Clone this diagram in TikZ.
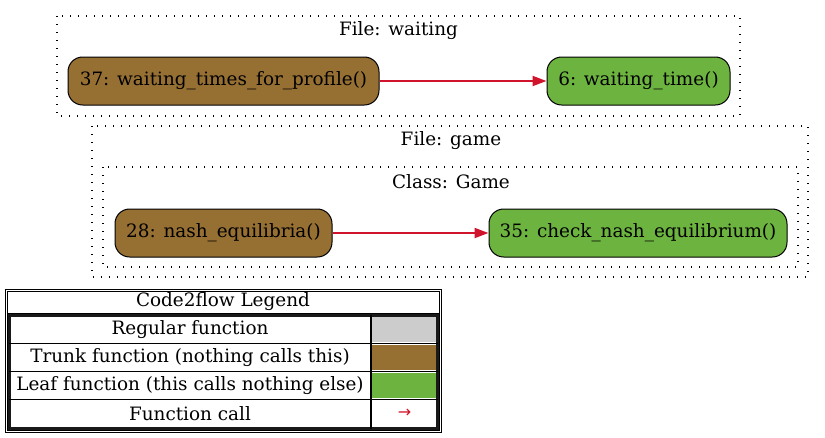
\documentclass[tikz,border=0pt]{standalone}
\usepackage{fontspec}
\setmainfont{DejaVu Serif}
\newfontfamily\symfont{DejaVu Sans}
\usetikzlibrary{arrows.meta}
\definecolor{trunk}{HTML}{966F33}
\definecolor{leaf}{HTML}{6DB33F}
\definecolor{regular}{HTML}{CCCCCC}
\definecolor{edgered}{HTML}{CF142B}
\tikzset{
  fn/.style={draw=black, line width=0.75pt, rounded corners=11pt, minimum height=36pt, inner sep=0pt, font=\fontsize{13.8}{15}\selectfont},
  trunkfn/.style={fn, fill=trunk},
  leaffn/.style={fn, fill=leaf},
  cluster/.style={draw=black, line width=1pt, dash pattern=on 1pt off 5pt},
  clabel/.style={font=\fontsize{13.8}{15}\selectfont, inner sep=0pt},
  call/.style={draw=edgered, line width=1.5pt, -{Triangle[length=10.5pt,width=7.5pt]}},
  ltext/.style={font=\fontsize{13.8}{15}\selectfont, inner sep=0pt},
}
\begin{document}
\begin{tikzpicture}[x=0.75pt, y=-0.75pt]
\useasboundingbox (0,0) rectangle (825,437);
% clusters
\draw[cluster] (57,16) rectangle (740,116);
\node[clabel] (lwaiting) at (398.5,31) {File: waiting};
\draw[cluster] (92,126) rectangle (808,277);
\node[clabel] (lgame) at (451,141) {File: game};
\draw[cluster] (103,167) rectangle (798,267);
\node[clabel] (lclass) at (451,182) {Class: Game};
% nodes
\node[trunkfn, minimum width=233.25pt] (n37) at (223.5,81) {37: waiting\_times\_for\_profile()};
\node[leaffn, minimum width=137.25pt] (n6) at (638.5,81) {6: waiting\_time()};
\node[trunkfn, minimum width=162.75pt] (n28) at (223.5,233) {28: nash\_equilibria()};
\node[leaffn, minimum width=223.5pt] (n35) at (638,233) {35: check\_nash\_equilibrium()};
\draw[call] (n37) -- (n6);
\draw[call] (n28) -- (n35);
% legend
\fill[regular] (372,317) rectangle (437,342);
\fill[trunk] (372,345) rectangle (437,370);
\fill[leaf] (372,373) rectangle (437,398);
\draw[line width=0.75pt] (5,289) rectangle (441,432);
\draw[line width=0.75pt] (7,291) rectangle (439,430);
\draw[line width=0.75pt] (7,313) -- (439,313);
\draw[line width=2.4pt, draw=black!90] (9.5,315.5) rectangle (437.5,428.5);
\draw[line width=1.3pt] (9,343.5) -- (438,343.5);
\draw[line width=1.3pt] (9,371.5) -- (438,371.5);
\draw[line width=1.3pt] (9,399.5) -- (438,399.5);
\draw[line width=1.3pt] (371,315) -- (371,429);
\node[ltext] (lt) at (223,302) {Code2flow Legend};
\node[ltext] (l1) at (190,329.5) {Regular function};
\node[ltext] (l2) at (190,357.5) {Trunk function (nothing calls this)};
\node[ltext] (l3) at (190,385.5) {Leaf function (this calls nothing else)};
\node[ltext] (l4) at (190,413.5) {Function call};
\node[inner sep=0pt, text=edgered, font=\symfont\fontsize{12}{13}\selectfont] (l5) at (404.5,413) {→};
\end{tikzpicture}
\end{document}
